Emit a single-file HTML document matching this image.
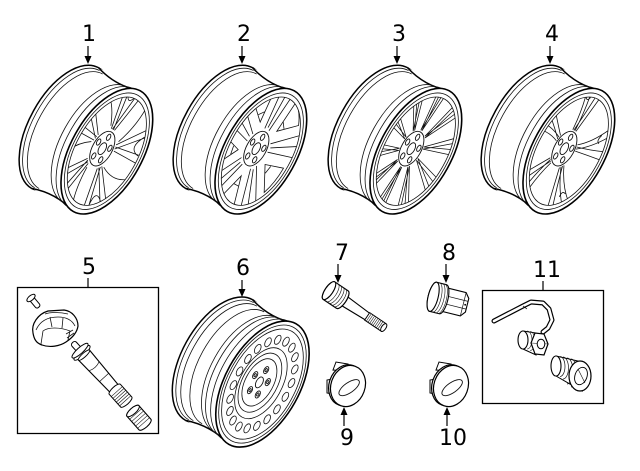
<!DOCTYPE html>
<html><head><meta charset="utf-8">
<style>
html,body{margin:0;padding:0;background:#fff;}
svg{display:block}
svg *{vector-effect:non-scaling-stroke}
text{font-family:"DejaVu Sans","Liberation Sans",sans-serif;font-size:22px;fill:#000}
</style></head><body>
<svg width="640" height="471" viewBox="0 0 640 471" xmlns="http://www.w3.org/2000/svg">
<defs>
  <clipPath id="fc"><circle cx="0" cy="0" r="59.5"/></clipPath>
  <g id="shell">
    <circle r="69" fill="#fff" stroke="#000" stroke-width="1.5"/>
    <path d="M0,-69 L92,-69 A69 69 0 0 1 92,69 L0,69 Z" fill="#fff"/>
    <path d="M0,-69 Q46,-61 92,-69" fill="none" stroke="#000" stroke-width="1.5"/>
    <path d="M0,69 Q46,61 92,69" fill="none" stroke="#000" stroke-width="1.5"/>
    <g fill="none" stroke="#111" stroke-width="0.8">
      <path d="M4.6,-67 A67 67 0 0 0 4.6,67"/>
      <path d="M12.9,-65.5 A65.5 65.5 0 0 0 12.9,65.5"/>
      <path d="M66,-66 A66 66 0 0 0 66,66"/>
      <path d="M79,-67.5 A67.5 67.5 0 0 0 79,67.5"/>
    </g>
  </g>
  <g id="rimring">
    <circle r="69" fill="none" stroke="#000" stroke-width="1.6"/>
    <circle r="64" fill="none" stroke="#111" stroke-width="0.8"/>
    <circle r="59.5" fill="none" stroke="#111" stroke-width="0.8"/>
  </g>
  <g id="hub">
    <circle r="19" fill="#fff" stroke="#111" stroke-width="0.9"/>
    <g fill="#fff" stroke="#111" stroke-width="0.9">
      <circle cx="0" cy="-13" r="3.4"/>
      <circle cx="12.36" cy="-4.02" r="3.4"/>
      <circle cx="7.64" cy="10.52" r="3.4"/>
      <circle cx="-7.64" cy="10.52" r="3.4"/>
      <circle cx="-12.36" cy="-4.02" r="3.4"/>
    </g>
    <circle r="6.5" fill="#fff" stroke="#111" stroke-width="0.9"/>
  </g>
  <path id="sp1" fill="none" stroke="#111" stroke-width="0.8" d="M-3,-19 L-17,-62 M1,-19 L-9,-62 M3,-19 L17,-62 M-1,-19 L9,-62 M-9,-58 Q0,-38 9,-58 M-6,-21 Q-20,-40 -40,-46"/>
  <path id="sp2" fill="none" stroke="#111" stroke-width="0.8" d="M-4,-19 L-11,-62 M4,-19 L11,-62 M0,-21 L0,-60"/>
  <path id="wd2" fill="none" stroke="#111" stroke-width="0.8" d="M0,-27 L-14,-54 Q0,-58 14,-54 Z M-4,-36 L4,-36"/>
  <path id="sp3" fill="none" stroke="#111" stroke-width="0.75" d="M-1,-18 L-8,-62 M1,-18 L-3,-62 M1,-18 L8,-62 M-1,-18 L3,-62"/>
  <path id="sp4" fill="none" stroke="#111" stroke-width="0.8" d="M-3,-18 Q-5,-40 -17,-60 M1,-18 Q0,-40 -9,-62 M3,-18 Q8,-40 13,-61 M-1,-18 Q3,-40 5,-62 M-11,-50 Q-6,-44 -3,-50"/>
  <circle id="hole" cx="0" cy="-45" r="4.6" fill="#fff" stroke="#111" stroke-width="0.8"/>
</defs>

<!-- ===== labels top ===== -->
<text x="89" y="41" text-anchor="middle">1</text>
<text x="244" y="41" text-anchor="middle">2</text>
<text x="399" y="41" text-anchor="middle">3</text>
<text x="552" y="41" text-anchor="middle">4</text>
<g stroke="#000" stroke-width="1.2">
  <line x1="88" y1="46" x2="88" y2="57"/>
  <line x1="242" y1="46" x2="242" y2="57"/>
  <line x1="397" y1="46" x2="397" y2="57"/>
  <line x1="550" y1="46" x2="550" y2="57"/>
</g>
<g fill="#000">
  <polygon points="84.5,56 91.5,56 88,64"/>
  <polygon points="238.5,56 245.5,56 242,64"/>
  <polygon points="393.5,56 400.5,56 397,64"/>
  <polygon points="546.5,56 553.5,56 550,64"/>
</g>

<!-- ===== wheel 1 ===== -->
<g transform="translate(65,128) rotate(29) scale(0.52,1)">
  <use href="#shell"/>
  <g transform="translate(92,0)">
    <circle r="69" fill="#fff"/>
    <g clip-path="url(#fc)">
      <g transform="translate(-10,0) scale(1.15)">
        <use href="#sp1"/><use href="#sp1" transform="rotate(72)"/><use href="#sp1" transform="rotate(144)"/><use href="#sp1" transform="rotate(216)"/><use href="#sp1" transform="rotate(288)"/>
      </g>
    </g>
    <use href="#rimring"/>
    <g transform="translate(-10,0)"><use href="#hub"/></g>
  </g>
</g>

<!-- ===== wheel 2 ===== -->
<g transform="translate(219,128) rotate(29) scale(0.52,1)">
  <use href="#shell"/>
  <g transform="translate(92,0)">
    <circle r="69" fill="#fff"/>
    <g clip-path="url(#fc)">
      <g transform="translate(-10,0) scale(1.15)">
        <use href="#sp2"/><use href="#sp2" transform="rotate(72)"/><use href="#sp2" transform="rotate(144)"/><use href="#sp2" transform="rotate(216)"/><use href="#sp2" transform="rotate(288)"/>
        <use href="#wd2" transform="rotate(36)"/><use href="#wd2" transform="rotate(108)"/><use href="#wd2" transform="rotate(180)"/><use href="#wd2" transform="rotate(252)"/><use href="#wd2" transform="rotate(324)"/>
      </g>
    </g>
    <use href="#rimring"/>
    <g transform="translate(-10,0)"><use href="#hub"/></g>
  </g>
</g>

<!-- ===== wheel 3 ===== -->
<g transform="translate(374,128) rotate(29) scale(0.52,1)">
  <use href="#shell"/>
  <g transform="translate(92,0)">
    <circle r="69" fill="#fff"/>
    <g clip-path="url(#fc)">
      <g transform="translate(-10,0) scale(1.15)">
        <use href="#sp3"/><use href="#sp3" transform="rotate(36)"/><use href="#sp3" transform="rotate(72)"/><use href="#sp3" transform="rotate(108)"/><use href="#sp3" transform="rotate(144)"/><use href="#sp3" transform="rotate(180)"/><use href="#sp3" transform="rotate(216)"/><use href="#sp3" transform="rotate(252)"/><use href="#sp3" transform="rotate(288)"/><use href="#sp3" transform="rotate(324)"/>
      </g>
    </g>
    <use href="#rimring"/>
    <g transform="translate(-10,0)"><use href="#hub"/></g>
  </g>
</g>

<!-- ===== wheel 4 ===== -->
<g transform="translate(527,128) rotate(29) scale(0.52,1)">
  <use href="#shell"/>
  <g transform="translate(92,0)">
    <circle r="69" fill="#fff"/>
    <g clip-path="url(#fc)">
      <g transform="translate(-10,0) scale(1.15)">
        <use href="#sp4"/><use href="#sp4" transform="rotate(72)"/><use href="#sp4" transform="rotate(144)"/><use href="#sp4" transform="rotate(216)"/><use href="#sp4" transform="rotate(288)"/>
      </g>
    </g>
    <use href="#rimring"/>
    <g transform="translate(-10,0)"><use href="#hub"/></g>
  </g>
</g>

<!-- ===== label 5 + box ===== -->
<text x="89" y="274" text-anchor="middle">5</text>
<line x1="88" y1="278" x2="88" y2="287" stroke="#000" stroke-width="1.2"/>
<rect x="17.5" y="287.5" width="141" height="146" fill="#fff" stroke="#000" stroke-width="1.3"/>
<g transform="translate(31,298) rotate(-40)">
  <rect x="-2.6" y="0" width="5.2" height="12" rx="2" fill="#fff" stroke="#000" stroke-width="1"/>
  <ellipse cx="0" cy="0" rx="5" ry="2.4" fill="#fff" stroke="#000" stroke-width="1"/>
</g>
<path d="M33,333 C31,324 38,314 48,311 L64,310 C72,311 78,318 78,326 C77,333 72,338 66,342 C60,346 50,348 42,345 C36,343 34,339 33,333 Z" fill="#fff" stroke="#000" stroke-width="1.2"/>
<g fill="none" stroke="#111" stroke-width="0.8">
  <path d="M36,330 C40,321 48,317 58,317 C66,317 72,320 75,326"/>
  <path d="M41,344 L43,331 C48,327 60,327 70,331 L68,340"/>
  <path d="M50,317 L52,327 M63,318 L62,328"/>
  <path d="M66,334 L73,330 M67,338 L74,333"/>
  <path d="M45,314 C50,312 60,312 68,314"/>
</g>
<g transform="translate(74,344) rotate(48)">
  <rect x="-2" y="-3" width="11" height="6" rx="2.5" fill="#fff" stroke="#000" stroke-width="1"/>
  <path d="M14,-7.5 L62,-5.5 L62,5.5 L14,7.5 Z" fill="#fff" stroke="#000" stroke-width="1.1"/>
  <path d="M45,-6 L45,6 M30,-6.8 Q33,0 30,6.8" fill="none" stroke="#111" stroke-width="0.7"/>
  <ellipse cx="12" cy="0" rx="3" ry="10.5" fill="#fff" stroke="#000" stroke-width="1"/>
  <ellipse cx="9" cy="0" rx="3" ry="10.5" fill="#fff" stroke="#000" stroke-width="1"/>
  <ellipse cx="15" cy="0" rx="2" ry="7.5" fill="#fff" stroke="#000" stroke-width="0.9"/>
  <path d="M61,-7.5 L78,-7.5 A2.5 7.5 0 0 1 78,7.5 L61,7.5 A2.5 7.5 0 0 1 61,-7.5 Z" fill="#fff" stroke="#000" stroke-width="1"/>
  <path d="M64,-7.5 L64,7.5 M66.5,-7.5 L66.5,7.5 M69,-7.5 L69,7.5 M71.5,-7.5 L71.5,7.5 M74,-7.5 L74,7.5 M76.5,-7.5 L76.5,7.5" stroke="#111" stroke-width="0.6"/>
</g>
<g transform="translate(133,411) rotate(48.6)">
  <path d="M0,-8 L18,-8 A3 8 0 0 1 18,8 L0,8 A3 8 0 0 1 0,-8 Z" fill="#fff" stroke="#000" stroke-width="1.1"/>
  <path d="M4,-8 L4,8 M7,-8 L7,8 M10,-8 L10,8 M13,-8 L13,8 M16,-8 L16,8" stroke="#111" stroke-width="0.6"/>
  <ellipse cx="0" cy="0" rx="3" ry="8" fill="#fff" stroke="#000" stroke-width="1"/>
</g>

<!-- ===== wheel 6 (steel) ===== -->
<text x="243" y="275" text-anchor="middle">6</text>
<line x1="242" y1="280" x2="242" y2="290" stroke="#000" stroke-width="1.2"/>
<polygon points="238.5,289 245.5,289 242,297" fill="#000"/>
<g transform="translate(219,360) rotate(29) scale(0.54,1)">
  <use href="#shell"/>
  <g fill="none" stroke="#111" stroke-width="0.8">
    <path d="M30,-64 A64 64 0 0 0 30,64"/>
    <path d="M56,-65 A65 65 0 0 0 56,65"/>
  </g>
  <g transform="translate(92,0)">
    <circle r="69" fill="#fff" stroke="#000" stroke-width="1.6"/>
    <g transform="scale(1.078)">
      <circle r="60" fill="none" stroke="#111" stroke-width="0.8"/>
      <circle r="56" fill="none" stroke="#111" stroke-width="0.8"/>
      <use href="#hole"/><use href="#hole" transform="rotate(18)"/><use href="#hole" transform="rotate(36)"/><use href="#hole" transform="rotate(54)"/><use href="#hole" transform="rotate(72)"/><use href="#hole" transform="rotate(90)"/><use href="#hole" transform="rotate(108)"/><use href="#hole" transform="rotate(126)"/><use href="#hole" transform="rotate(144)"/><use href="#hole" transform="rotate(162)"/><use href="#hole" transform="rotate(180)"/><use href="#hole" transform="rotate(198)"/><use href="#hole" transform="rotate(216)"/><use href="#hole" transform="rotate(234)"/><use href="#hole" transform="rotate(252)"/><use href="#hole" transform="rotate(270)"/><use href="#hole" transform="rotate(288)"/><use href="#hole" transform="rotate(306)"/><use href="#hole" transform="rotate(324)"/><use href="#hole" transform="rotate(342)"/>
      <circle cx="-3" r="36" fill="none" stroke="#111" stroke-width="0.8"/>
      <circle cx="-5" r="30" fill="none" stroke="#111" stroke-width="0.8"/>
      <circle cx="-6" r="24" fill="none" stroke="#111" stroke-width="0.8"/>
      <g transform="translate(-6,0)" fill="#fff" stroke="#111" stroke-width="0.9">
        <circle cx="0" cy="-13" r="3.6"/>
        <circle cx="12.36" cy="-4.02" r="3.6"/>
        <circle cx="7.64" cy="10.52" r="3.6"/>
        <circle cx="-7.64" cy="10.52" r="3.6"/>
        <circle cx="-12.36" cy="-4.02" r="3.6"/>
        <circle cx="0" cy="-13" r="1.6"/>
        <circle cx="12.36" cy="-4.02" r="1.6"/>
        <circle cx="7.64" cy="10.52" r="1.6"/>
        <circle cx="-7.64" cy="10.52" r="1.6"/>
        <circle cx="-12.36" cy="-4.02" r="1.6"/>
        <circle r="5.5"/>
      </g>
    </g>
  </g>
</g>

<!-- ===== part 7 ===== -->
<text x="342" y="260" text-anchor="middle">7</text>
<line x1="338" y1="264" x2="338" y2="276" stroke="#000" stroke-width="1.2"/>
<polygon points="334.5,275 341.5,275 338,283" fill="#000"/>
<g transform="translate(334,294) rotate(34)">
  <path d="M10,-5.5 L44,-3.8 L44,3.8 L10,5.5 Z" fill="#fff" stroke="#000" stroke-width="1.1"/>
  <path d="M40,-4.5 L59,-4.5 A2 4.5 0 0 1 59,4.5 L40,4.5 Z" fill="#fff" stroke="#000" stroke-width="1"/>
  <path d="M42,-4.5 L42,4.5 M44,-4.5 L44,4.5 M46,-4.5 L46,4.5 M48,-4.5 L48,4.5 M50,-4.5 L50,4.5 M52,-4.5 L52,4.5 M54,-4.5 L54,4.5 M56,-4.5 L56,4.5" stroke="#111" stroke-width="0.55"/>
  <ellipse cx="60" cy="0" rx="2.2" ry="4.5" fill="#fff" stroke="#000" stroke-width="1"/>
  <path d="M-6,-10.5 L10,-10.5 A4 10.5 0 0 1 10,10.5 L-6,10.5 A4 10.5 0 0 1 -6,-10.5 Z" fill="#fff" stroke="#000" stroke-width="1.2"/>
  <path d="M-2,-10.5 A4 10.5 0 0 1 -2,10.5 M1,-10.5 A4 10.5 0 0 1 1,10.5 M4,-10.5 A4 10.5 0 0 1 4,10.5 M7,-10.5 A4 10.5 0 0 1 7,10.5" fill="none" stroke="#111" stroke-width="0.6"/>
  <ellipse cx="-6" cy="0" rx="4" ry="10.5" fill="#fff" stroke="#000" stroke-width="1.1"/>
</g>

<!-- ===== part 8 ===== -->
<text x="449" y="260" text-anchor="middle">8</text>
<line x1="446" y1="264" x2="446" y2="276" stroke="#000" stroke-width="1.2"/>
<polygon points="442.5,275 449.5,275 446,283" fill="#000"/>
<g transform="translate(438,298) rotate(14)">
  <polygon points="5,-12 26,-12 30,-7 30,7 26,12 5,12" fill="#fff" stroke="#000" stroke-width="1.1"/>
  <path d="M6,-4 L30,-4 M6,4 L30,4 M26,-12 L26,12" fill="none" stroke="#111" stroke-width="0.7"/>
  <circle cx="28" cy="0" r="0.9" fill="#000"/>
  <path d="M-5,-15 L5,-15 A5 15 0 0 1 5,15 L-5,15 A5 15 0 0 1 -5,-15 Z" fill="#fff" stroke="#000" stroke-width="1.1"/>
  <path d="M-2,-15 A5 15 0 0 1 -2,15 M1,-15 A5 15 0 0 1 1,15 M3.5,-15 A5 15 0 0 1 3.5,15" fill="none" stroke="#111" stroke-width="0.6"/>
  <ellipse cx="-5" cy="0" rx="5" ry="15" fill="#fff" stroke="#000" stroke-width="1.1"/>
</g>

<!-- ===== part 9 ===== -->
<g transform="translate(348,386)">
  <path d="M-15,-16 L-12,-24 L0,-22 L-2,-15 Z" fill="#fff" stroke="#000" stroke-width="1"/>
  <path d="M-15,-7 L-21,-6 L-21,7 L-15,8 Z" fill="#fff" stroke="#000" stroke-width="1"/>
  <ellipse cx="-2" cy="0" rx="17" ry="21" transform="rotate(20)" fill="#fff" stroke="#000" stroke-width="1.2"/>
  <ellipse cx="0" cy="0" rx="17" ry="21" transform="rotate(20)" fill="#fff" stroke="#000" stroke-width="1.2"/>
  <ellipse cx="0" cy="2" rx="12" ry="5" transform="rotate(-35)" fill="none" stroke="#111" stroke-width="0.9"/>
</g>
<text x="347" y="445" text-anchor="middle">9</text>
<line x1="344" y1="414" x2="344" y2="426" stroke="#000" stroke-width="1.2"/>
<polygon points="340.5,415 347.5,415 344,407" fill="#000"/>

<!-- ===== part 10 ===== -->
<g transform="translate(451,386)">
  <path d="M-15,-16 L-12,-24 L0,-22 L-2,-15 Z" fill="#fff" stroke="#000" stroke-width="1"/>
  <path d="M-15,-7 L-21,-6 L-21,7 L-15,8 Z" fill="#fff" stroke="#000" stroke-width="1"/>
  <ellipse cx="-2" cy="0" rx="17" ry="21" transform="rotate(20)" fill="#fff" stroke="#000" stroke-width="1.2"/>
  <ellipse cx="0" cy="0" rx="17" ry="21" transform="rotate(20)" fill="#fff" stroke="#000" stroke-width="1.2"/>
  <ellipse cx="0" cy="2" rx="12" ry="5" transform="rotate(-35)" fill="none" stroke="#111" stroke-width="0.9"/>
</g>
<text x="453" y="445" text-anchor="middle">10</text>
<line x1="447" y1="414" x2="447" y2="426" stroke="#000" stroke-width="1.2"/>
<polygon points="443.5,415 450.5,415 447,407" fill="#000"/>

<!-- ===== part 11 ===== -->
<text x="547" y="277" text-anchor="middle">11</text>
<line x1="543" y1="281" x2="543" y2="290" stroke="#000" stroke-width="1.2"/>
<rect x="482.5" y="290.5" width="121" height="113" fill="#fff" stroke="#000" stroke-width="1.3"/>
<polyline points="494,321 523,306 531,302 543,303 549,309 552,320 548,328 543,332" fill="none" stroke="#000" stroke-width="5" stroke-linecap="round" stroke-linejoin="round"/>
<polyline points="494,321 523,306 531,302 543,303 549,309 552,320 548,328 543,332" fill="none" stroke="#fff" stroke-width="2.6" stroke-linecap="round" stroke-linejoin="round"/>
<line x1="523" y1="306" x2="527" y2="309" stroke="#000" stroke-width="0.7"/>
<g>
  <path d="M523,331 L536,333 L536,355 L523,349 Z" fill="#fff" stroke="#000" stroke-width="1"/>
  <ellipse cx="523" cy="340" rx="5" ry="9" fill="#fff" stroke="#000" stroke-width="1.1"/>
  <path d="M527,331 A5 9 0 0 1 527,349 M530,331.5 A5 9.5 0 0 1 530,350.5" fill="none" stroke="#111" stroke-width="0.6"/>
  <polygon points="548,344 544,334 535,333 531,343 535,354 544,355" fill="#fff" stroke="#000" stroke-width="1.2"/>
  <path d="M531,343 L548,344" stroke="#111" stroke-width="0.6"/>
  <ellipse cx="541" cy="344" rx="3.8" ry="4.8" fill="#fff" stroke="#000" stroke-width="1"/>
</g>
<g>
  <path d="M556,356 L578,361 L582,391 L556,376 Z" fill="#fff" stroke="#000" stroke-width="1"/>
  <ellipse cx="556" cy="366" rx="5" ry="10" fill="#fff" stroke="#000" stroke-width="1.1"/>
  <path d="M560,356.5 A5 10 0 0 1 560,376.5 M563,357 A5.5 11 0 0 1 563,379 M567,358 A6 13 0 0 1 567,384 M571,359 A6 14 0 0 1 571,387" fill="none" stroke="#111" stroke-width="0.7"/>
  <ellipse cx="580" cy="376" rx="11" ry="15" fill="#fff" stroke="#000" stroke-width="1.2"/>
  <ellipse cx="581" cy="376" rx="6" ry="9" transform="rotate(20 581 376)" fill="#fff" stroke="#000" stroke-width="0.9"/>
  <path d="M578,369 L585,383" stroke="#111" stroke-width="0.6"/>
</g>
</svg>
</body></html>
